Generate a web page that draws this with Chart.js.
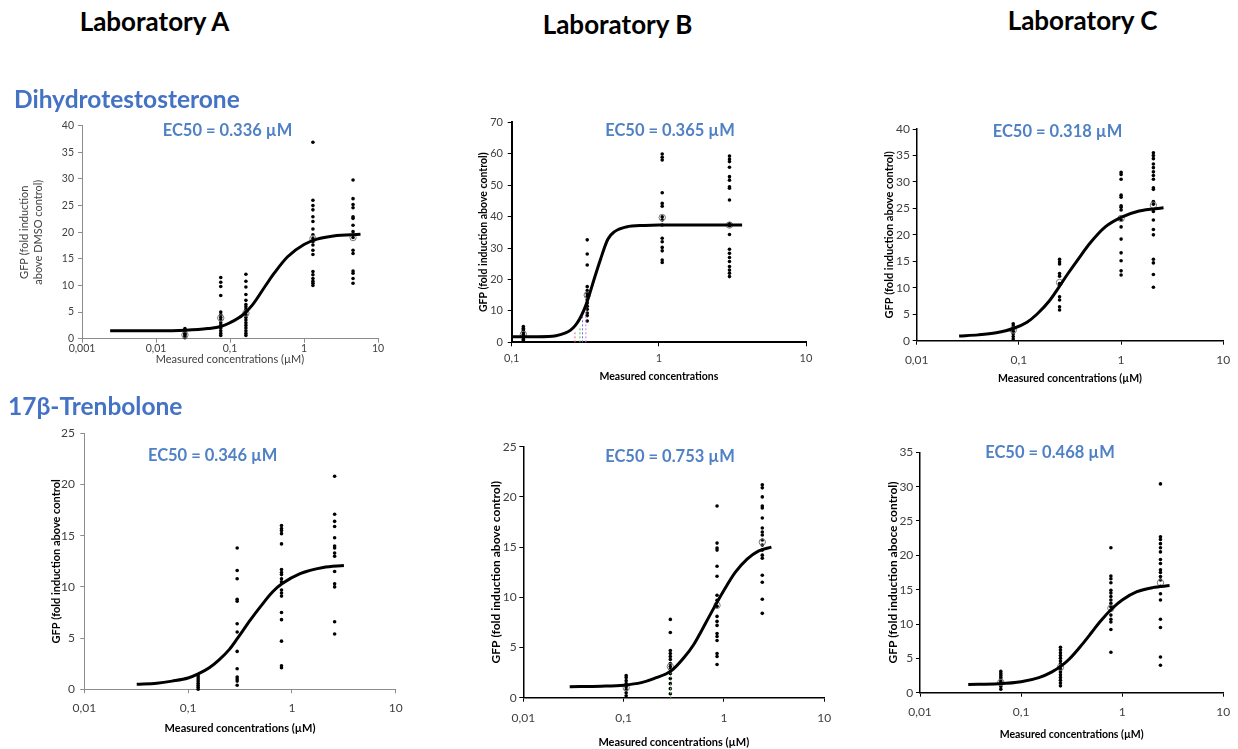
<!DOCTYPE html>
<html>
<head>
<meta charset="utf-8">
<script src="https://cdn.jsdelivr.net/npm/chart.js@4.4.1/dist/chart.umd.min.js"></script>
<style>
  body { margin: 0; background: #fff; }
  #page { position: relative; width: 1238px; height: 749px; overflow: hidden; background: #fff; }
  canvas { position: absolute; }
  .txt { position: absolute; white-space: nowrap; transform: translate(-50%, -50%); font-family: Lato, 'Open Sans', sans-serif; font-weight: bold; }
  .lab { font-size: 26px; color: #000; }
  .cmp { font-size: 24.5px; color: #4472c4; transform: translate(0, -50%); }
  .ec { font-size: 16.5px; color: #4f81c4; }
</style>
</head>
<body>
<div id="page"></div>
<script>
// --- DHT, laboratoire A
const dhtA_conc = [0.0246, 0.075, 0.164, 1.32, 4.6];
const dhtA_resp = [
    [0.2, 0.5, 0.8, 1.0, 1.3, 1.6, 1.9],
    [11.5, 10.6, 9.8, 8.1, 5.0, 4.5, 4.0, 3.5, 3.0, 2.5, 2.0, 1.5, 1.0, 0.6],
    [12.1, 10.8, 9.7, 8.3, 7.2, 6.4, 6.0, 5.5, 5.0, 4.5, 4.0, 3.5, 3.0, 2.5, 2.0, 1.5, 1.0, 0.6],
    [36.9, 26.0, 25.0, 24.2, 22.9, 22.0, 20.6, 19.5, 18.8, 18.2, 17.6, 16.6, 15.8, 12.6, 12.0, 11.3, 10.8, 10.4, 10.0],
    [29.8, 26.3, 25.2, 24.6, 22.9, 22.6, 21.3, 20.1, 19.0, 16.6, 16.0, 12.7, 12.3, 11.3, 10.4]
];
const dhtA_mean = [0.7, 3.9, 4.8, 18.8, 19.0];
const dhtA_fitX = [0.0024, 0.005, 0.01, 0.025, 0.05, 0.075, 0.1, 0.15, 0.2, 0.3, 0.4, 0.6, 1.0, 1.5, 2.5, 5.8];
const dhtA_fitY = [1.5, 1.5, 1.5, 1.6, 1.9, 2.3, 3.0, 4.5, 6.3, 9.9, 12.4, 15.4, 17.7, 18.7, 19.3, 19.6];

// --- DHT, laboratoire B
const dhtB_conc = [0.12, 0.326, 1.054, 3.02];
const dhtB_resp = [
    [0.5, 1.0, 1.5, 2.0, 2.5, 3.0, 3.5, 4.0, 4.5, 5.0],
    [32.6, 28.1, 24.6, 17.7, 16.5, 15.5, 14.6, 13.5, 12.5, 11.5, 10.5, 9.3, 8.5, 6.8],
    [59.9, 58.9, 58.0, 47.6, 44.2, 43.3, 39.9, 38.9, 37.3, 33.1, 32.0, 30.2, 29.1, 26.2, 25.4],
    [59.3, 58.3, 57.5, 55.7, 52.7, 51.6, 49.5, 49.0, 45.3, 37.8, 37.1, 34.3, 29.6, 28.3, 27.0, 25.7, 24.1, 23.0, 22.0, 20.9]
];
const dhtB_mean = [2.5, 15.0, 39.7, 37.3];
const dhtB_fitX = [0.1, 0.15, 0.2, 0.23, 0.25, 0.27, 0.29, 0.31, 0.33, 0.36, 0.4, 0.45, 0.5, 0.6, 0.8, 1.0, 3.68];
const dhtB_fitY = [1.8, 1.8, 2.1, 2.9, 3.8, 5.3, 7.5, 10.3, 13.8, 19.5, 26.2, 32.8, 35.2, 36.7, 37.2, 37.3, 37.3];
const dhtB_dropX = [0.269, 0.291, 0.303, 0.319];
const dhtB_dropY = [3.4, 5.0, 8.1, 12.4];
const dhtB_dropColors = ['#e56a8c', '#5cc25c', '#6a6ae0', '#d77ad7'];

// --- DHT, laboratoire C
const dhtC_conc = [0.088, 0.25, 1.0, 2.07];
const dhtC_resp = [
    [0.3, 0.8, 1.3, 1.8, 2.3, 2.8, 3.2],
    [15.4, 14.9, 14.5, 12.7, 12.2, 10.8, 10.5, 8.3, 7.7, 6.4, 5.8],
    [31.8, 31.4, 30.5, 27.5, 27.1, 25.5, 25.2, 24.7, 22.8, 21.5, 19.2, 16.6, 15.1, 13.2, 12.4],
    [35.5, 35.0, 34.4, 33.4, 32.7, 31.9, 31.2, 30.5, 28.9, 28.6, 26.3, 25.8, 24.4, 22.8, 21.0, 20.0, 15.4, 14.7, 12.5, 10.1]
];
const dhtC_mean = [2.0, 11.0, 23.1, 25.6];
const dhtC_fitX = [0.026, 0.04, 0.06, 0.088, 0.12, 0.15, 0.2, 0.25, 0.3, 0.4, 0.5, 0.7, 1.0, 1.5, 2.6];
const dhtC_fitY = [0.9, 1.1, 1.5, 2.3, 3.5, 5.0, 7.6, 10.3, 12.6, 16.0, 18.5, 21.5, 23.3, 24.5, 25.1];

// --- Trenbolone, laboratoire A
const trbA_conc = [0.125, 0.297, 0.794, 2.58];
const trbA_resp = [
    [0.0, 0.2, 0.4, 0.6, 0.8, 1.0, 1.2, 1.4],
    [13.8, 11.6, 10.8, 8.8, 8.6, 6.4, 5.6, 3.7, 2.0, 1.2, 1.0, 0.8, 0.4],
    [16.0, 15.7, 15.5, 15.2, 14.2, 11.7, 11.4, 11.2, 10.8, 10.5, 9.7, 9.4, 9.1, 7.5, 6.8, 4.7, 2.3, 2.1],
    [20.8, 17.1, 16.4, 15.9, 14.8, 14.0, 13.8, 13.3, 13.0, 11.5, 10.3, 10.0, 6.6, 5.4]
];
const trbA_mean = [];
const trbA_fitX = [0.032, 0.05, 0.07, 0.1, 0.125, 0.16, 0.2, 0.25, 0.3, 0.4, 0.5, 0.65, 0.8, 1.2, 2.0, 3.17];
const trbA_fitY = [0.5, 0.6, 0.8, 1.1, 1.5, 2.1, 2.9, 3.9, 5.0, 6.8, 8.1, 9.5, 10.3, 11.3, 11.9, 12.1];

// --- Trenbolone, laboratoire B
const trbB_conc = [0.106, 0.292, 0.853, 2.41];
const trbB_resp = [
    [0.2, 0.5, 0.8, 1.1, 1.4, 1.7, 2.0, 2.2],
    [7.8, 6.5, 4.7, 4.4, 4.1, 3.8, 3.4, 3.1, 2.8, 2.4, 1.9, 1.4, 0.9, 0.4],
    [19.1, 15.4, 14.9, 14.7, 13.1, 12.1, 10.2, 9.7, 9.1, 8.1, 7.6, 7.2, 6.4, 6.1, 5.7, 4.4, 4.1, 3.3],
    [21.2, 20.9, 20.0, 19.1, 18.9, 17.9, 16.9, 16.5, 16.2, 15.7, 15.2, 14.7, 14.2, 13.9, 12.2, 11.5, 9.8, 8.4]
];
const trbB_mean = [1.0, 3.1, 9.2, 15.5];
const trbB_fitX = [0.029, 0.06, 0.1, 0.15, 0.2, 0.3, 0.4, 0.5, 0.6, 0.75, 1.0, 1.3, 1.7, 2.2, 2.97];
const trbB_fitY = [1.1, 1.15, 1.25, 1.5, 1.9, 2.7, 4.0, 5.3, 6.7, 8.5, 10.7, 12.5, 13.8, 14.6, 15.0];
const trbB_dropX = [0.295];
const trbB_dropY = [2.7];
const trbB_dropColors = ['#8fd08f'];

// --- Trenbolone, laboratoire C
const trbC_conc = [0.063, 0.245, 0.773, 2.39];
const trbC_resp = [
    [0.5, 0.9, 1.3, 1.6, 1.9, 2.2, 2.5, 2.8, 3.1],
    [1.0, 1.4, 1.8, 2.2, 2.6, 3.0, 3.4, 3.8, 4.2, 4.6, 5.0, 5.4, 5.8, 6.2, 6.6],
    [21.1, 17.0, 16.6, 16.0, 14.9, 14.5, 14.0, 13.5, 13.0, 12.5, 12.0, 11.3, 10.7, 10.3, 9.2, 5.9],
    [30.4, 22.7, 22.3, 21.7, 21.1, 20.5, 19.4, 18.8, 17.9, 17.5, 16.9, 16.4, 15.5, 14.4, 13.5, 10.7, 9.5, 5.2, 4.0]
];
const trbC_mean = [1.5, 3.7, 12.3, 16.0];
const trbC_fitX = [0.03, 0.06, 0.1, 0.15, 0.2, 0.25, 0.3, 0.4, 0.5, 0.6, 0.8, 1.0, 1.4, 2.0, 2.94];
const trbC_fitY = [1.2, 1.3, 1.6, 2.2, 3.0, 3.9, 4.9, 7.0, 8.8, 10.3, 12.3, 13.5, 14.7, 15.3, 15.6];

// axes
const xTicks3 = [0.01, 0.1, 1, 10];
const xLabels3 = ['0,01', '0,1', '1', '10'];
const xTicksA = [0.001, 0.01, 0.1, 1, 10];
const xLabelsA = ['0,001', '0,01', '0,1', '1', '10'];
const xTicksB = [0.1, 1, 10];
const xLabelsB = ['0,1', '1', '10'];

const FONT = "Lato, 'Open Sans', sans-serif";
Chart.defaults.font.family = FONT;

const page = document.getElementById('page');

function addText(cls, text, x, y) {
    const d = document.createElement('div');
    d.className = 'txt ' + cls;
    d.textContent = text;
    d.style.left = x + 'px';
    d.style.top = y + 'px';
    page.appendChild(d);
}

function pts(xs, ys) {
    return xs.map((x, i) => ({ x: x, y: ys[i] }));
}

function columns(conc, resp) {
    const out = [];
    conc.forEach((c, i) => resp[i].forEach(v => out.push({ x: c, y: v })));
    return out;
}

function makePanel(p) {
    const [l, t, r, b] = p.area;
    const yLh = p.yTitle.size * (p.yTitle.lh || 1.2);
    const xLh = p.xTitle.size * 1.2;
    const cl = Math.floor(p.yTitleX - yLh / 2);
    const ct = Math.floor(t - 14);
    const cr = Math.ceil(r + 24);
    const cb = Math.ceil(p.xTitleY + xLh / 2);
    const yW = l - cl, xH = cb - b, padTop = t - ct, padRight = cr - r;

    const canvas = document.createElement('canvas');
    canvas.width = cr - cl;
    canvas.height = cb - ct;
    canvas.style.left = cl + 'px';
    canvas.style.top = ct + 'px';
    page.appendChild(canvas);

    const datasets = [
        { data: pts(p.fitX, p.fitY), showLine: true, borderColor: '#000', borderWidth: p.curveW || 3,
          pointRadius: 0, cubicInterpolationMode: 'monotone', clip: false }
    ];
    (p.dropX || []).forEach((x, i) => {
        datasets.push({ data: [{ x: x, y: 0 }, { x: x, y: p.dropY[i] }], showLine: true,
            borderColor: p.dropColors[i], borderWidth: 1, borderDash: [2, 2], pointRadius: 0, clip: false });
    });
    datasets.push({ data: pts(p.conc, p.mean), pointRadius: 3.2, pointBackgroundColor: 'rgba(255,255,255,0)',
        pointBorderColor: '#777', pointBorderWidth: 1, clip: false });
    datasets.push({ data: columns(p.conc, p.resp), pointRadius: 1.8, pointBackgroundColor: '#000',
        pointBorderWidth: 0, clip: false });

    new Chart(canvas, {
        type: 'scatter',
        data: { datasets },
        options: {
            responsive: false,
            animation: false,
            devicePixelRatio: 1,
            layout: { padding: { top: padTop, right: padRight, left: 0, bottom: 0 } },
            plugins: { legend: { display: false }, tooltip: { enabled: false } },
            scales: {
                x: {
                    type: 'logarithmic', min: p.xTicks[0], max: p.xTicks[p.xTicks.length - 1],
                    afterBuildTicks: s => { s.ticks = p.xTicks.map(v => ({ value: v })); },
                    afterFit: s => { s.height = xH; },
                    ticks: { callback: (v, i) => p.xLabels[i], autoSkip: false, maxRotation: 0,
                             padding: p.xPad, font: { size: p.tickSize }, color: '#404040' },
                    grid: { drawOnChartArea: false, tickLength: 4, color: p.axisColor },
                    border: { color: p.axisColor, width: p.axisW },
                    title: { display: true, text: p.xTitle.text, padding: 0, color: p.titleColor,
                             font: { size: p.xTitle.size, weight: p.xTitle.weight } }
                },
                y: {
                    type: 'linear', min: 0, max: p.yMax,
                    afterFit: s => { s.width = yW; },
                    ticks: { stepSize: p.yStep, padding: p.yPad, font: { size: p.tickSize }, color: '#404040' },
                    grid: { drawOnChartArea: false, tickLength: 4, color: p.axisColor },
                    border: { color: p.axisColor, width: p.axisW },
                    title: { display: true, text: p.yTitle.text, padding: 0, color: p.titleColor,
                             font: { size: p.yTitle.size, weight: p.yTitle.weight, lineHeight: p.yTitle.lh || 1.2 } }
                }
            }
        }
    });
}

const boldX = size => ({ text: 'Measured concentrations (µM)', size: size, weight: 'bold' });

makePanel({
    area: [82, 125.7, 378, 338.7], yMax: 40, yStep: 5, xTicks: xTicksA, xLabels: xLabelsA,
    conc: dhtA_conc, resp: dhtA_resp, mean: dhtA_mean, fitX: dhtA_fitX, fitY: dhtA_fitY,
    axisColor: '#8c8c8c', axisW: 1, tickSize: 10.5, xPad: 0, yPad: 4, titleColor: '#404040',
    yTitleX: 24.5, xTitleY: 359.3,
    yTitle: { text: ['GFP (fold induction', 'above DMSO control)'], size: 11, weight: 'normal', lh: 1.32 },
    xTitle: { text: 'Measured concentrations (µM)', size: 11, weight: 'normal' }
});
makePanel({
    area: [511.7, 122.3, 806, 342.3], yMax: 70, yStep: 10, xTicks: xTicksB, xLabels: xLabelsB,
    conc: dhtB_conc, resp: dhtB_resp, mean: dhtB_mean, fitX: dhtB_fitX, fitY: dhtB_fitY,
    dropX: dhtB_dropX, dropY: dhtB_dropY, dropColors: dhtB_dropColors,
    axisColor: '#000', axisW: 2, tickSize: 11, xPad: 5.5, yPad: 4.7, titleColor: '#000',
    yTitleX: 483.5, xTitleY: 376.7,
    yTitle: { text: 'GFP (fold induction above control)', size: 10.5, weight: 'bold' },
    xTitle: { text: 'Measured concentrations', size: 10.5, weight: 'bold' }
});
makePanel({
    area: [916.7, 129, 1223.3, 340.7], yMax: 40, yStep: 5, xTicks: xTicks3, xLabels: xLabels3,
    conc: dhtC_conc, resp: dhtC_resp, mean: dhtC_mean, fitX: dhtC_fitX, fitY: dhtC_fitY,
    axisColor: '#000', axisW: 1.5, tickSize: 12, xPad: 8, yPad: 2.7, titleColor: '#000',
    yTitleX: 890, xTitleY: 378.3,
    yTitle: { text: 'GFP (fold induction above control)', size: 11, weight: 'bold' },
    xTitle: boldX(10.5)
});
makePanel({
    area: [84.3, 433.3, 395.7, 689.3], yMax: 25, yStep: 5, xTicks: xTicks3, xLabels: xLabels3,
    conc: trbA_conc, resp: trbA_resp, mean: trbA_mean, fitX: trbA_fitX, fitY: trbA_fitY,
    axisColor: '#8c8c8c', axisW: 1, tickSize: 12, xPad: 8, yPad: 5.3, titleColor: '#000',
    yTitleX: 56.7, xTitleY: 728.3,
    yTitle: { text: 'GFP (fold induction above control', size: 11, weight: 'bold' },
    xTitle: boldX(11)
});
makePanel({
    area: [523.3, 446.7, 824.3, 697.7], yMax: 25, yStep: 5, xTicks: xTicks3, xLabels: xLabels3,
    conc: trbB_conc, resp: trbB_resp, mean: trbB_mean, fitX: trbB_fitX, fitY: trbB_fitY,
    dropX: trbB_dropX, dropY: trbB_dropY, dropColors: trbB_dropColors,
    axisColor: '#000', axisW: 1.5, tickSize: 12, xPad: 9.5, yPad: 2.7, titleColor: '#000',
    yTitleX: 496.7, xTitleY: 741.7,
    yTitle: { text: 'GFP (fold induction above control)', size: 12, weight: 'bold' },
    xTitle: boldX(11)
});
makePanel({
    area: [920, 452.3, 1223.3, 692.7], yMax: 35, yStep: 5, xTicks: xTicks3, xLabels: xLabels3,
    conc: trbC_conc, resp: trbC_resp, mean: trbC_mean, fitX: trbC_fitX, fitY: trbC_fitY,
    axisColor: '#000', axisW: 1.5, tickSize: 12, xPad: 8.5, yPad: 2.7, titleColor: '#000',
    yTitleX: 893.3, xTitleY: 734.3,
    yTitle: { text: 'GFP (fold induction aboce control)', size: 12, weight: 'bold' },
    xTitle: boldX(10.5)
});

// titres et libellés
addText('lab', 'Laboratory A', 154.5, 21);
addText('lab', 'Laboratory B', 617.5, 24);
addText('lab', 'Laboratory C', 1082.5, 20);
addText('cmp', 'Dihydrotestosterone', 14, 98);
addText('cmp', '17β-Trenbolone', 8, 405);
addText('ec', 'EC50 = 0.336 µM', 227.5, 130);
addText('ec', 'EC50 = 0.365 µM', 670, 130);
addText('ec', 'EC50 = 0.318 µM', 1057.5, 131);
addText('ec', 'EC50 = 0.346 µM', 212.7, 455);
addText('ec', 'EC50 = 0.753 µM', 670, 456);
addText('ec', 'EC50 = 0.468 µM', 1050, 452);
</script>
</body>
</html>
